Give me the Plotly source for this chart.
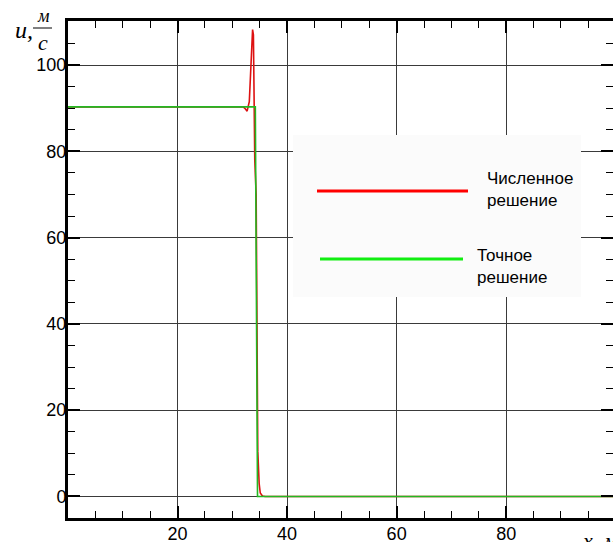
import plotly.graph_objects as go

# Numerical solution (red)
x_num = [0, 32.0, 32.4, 32.7, 33.1, 33.4, 33.7, 33.85, 34.1, 34.35, 34.5, 34.65, 34.9, 35.1, 35.5, 36.0, 100]
u_num = [90.3, 90.3, 89.8, 89.3, 91.5, 100, 108.2, 107, 78, 70, 40, 10.5, 3, 0.8, 0.1, 0, 0]

# Exact solution (green)
x_exact = [0, 34.2, 34.6, 100]
u_exact = [90.3, 90.3, 0, 0]

x_ticks = [20, 40, 60, 80]
y_ticks = [0, 20, 40, 60, 80, 100]

legend_labels = ["Численное<br>решение", "Точное<br>решение"]

W, H = 613, 542
L, R, T, B = 68, 0, 21, 24
pw, ph = W - L - R, H - T - B


def px(xs):
    """screen x (px) -> paper fraction"""
    return (xs - L) / pw


def py(ys):
    """screen y (px) -> paper fraction"""
    return (H - B - ys) / ph


fig = go.Figure()
fig.add_trace(go.Scatter(x=x_num, y=u_num, mode="lines",
                         line=dict(color="#dd1111", width=1.6), showlegend=False))
fig.add_trace(go.Scatter(x=x_exact, y=u_exact, mode="lines",
                         line=dict(color="#22b822", width=1.6), showlegend=False))

axis_common = dict(
    showgrid=True, gridcolor="#3a3a3a", gridwidth=1,
    showline=True, linecolor="black", linewidth=3, mirror="ticks",
    ticks="inside", ticklen=12, tickwidth=2, tickcolor="black",
    zeroline=False, automargin=False,
    tickfont=dict(family="Liberation Sans, Arial", size=18, color="black"),
    minor=dict(dtick=5, ticks="inside", ticklen=7, tickwidth=1, tickcolor="black", showgrid=False),
)

fig.update_xaxes(range=[0, 99.5], tickvals=x_ticks, ticklabelstandoff=-3, **axis_common)
fig.update_yaxes(range=[-5, 110.2], tickvals=y_ticks, ticklabelstandoff=-5, **axis_common)

shapes = [
    dict(type="rect", xref="paper", yref="paper", x0=px(293), x1=px(581), y0=py(297), y1=py(135),
         fillcolor="#fbfbfb", line=dict(width=0), layer="above"),
    dict(type="line", xref="paper", yref="paper", x0=px(317), x1=px(468), y0=py(191), y1=py(191),
         line=dict(color="#ff0000", width=3), layer="above"),
    dict(type="line", xref="paper", yref="paper", x0=px(320), x1=px(463), y0=py(259), y1=py(259),
         line=dict(color="#11ee11", width=3), layer="above"),
    # fraction bar of the axis unit
    dict(type="line", xref="paper", yref="paper", x0=px(33), x1=px(52), y0=py(28), y1=py(28),
         line=dict(color="black", width=1)),
]

ann_font = dict(family="Liberation Sans, Arial", size=17, color="black")
serif = "Liberation Serif, Times New Roman"
annotations = [
    dict(xref="paper", yref="paper", x=px(485), y=py(189), text=legend_labels[0], showarrow=False,
         xanchor="left", yanchor="middle", align="left", font=ann_font),
    dict(xref="paper", yref="paper", x=px(475), y=py(266), text=legend_labels[1], showarrow=False,
         xanchor="left", yanchor="middle", align="left", font=ann_font),
    dict(xref="paper", yref="paper", x=px(24), y=py(30), text="<i>u,</i>", showarrow=False,
         xanchor="center", yanchor="middle", font=dict(family=serif, size=24, color="black")),
    dict(xref="paper", yref="paper", x=px(43), y=py(16), text="<i>м</i>", showarrow=False,
         xanchor="center", yanchor="middle", font=dict(family=serif, size=18, color="black")),
    dict(xref="paper", yref="paper", x=px(43), y=py(43), text="<i>c</i>", showarrow=False,
         xanchor="center", yanchor="middle", font=dict(family=serif, size=22, color="black")),
    dict(xref="paper", yref="paper", x=px(580), y=py(526), text="<i>x, м</i>", showarrow=False,
         xanchor="left", yanchor="top", font=dict(family=serif, size=22, color="black")),
]

fig.update_layout(
    width=W, height=H,
    margin=dict(l=L, r=R, t=T, b=B, autoexpand=False),
    paper_bgcolor="white", plot_bgcolor="white",
    shapes=shapes, annotations=annotations,
    showlegend=False,
)

fig.write_html(
    "out.html",
    config={"displayModeBar": False},
    post_script="document.body.style.margin='0';document.body.style.overflow='hidden';",
)
